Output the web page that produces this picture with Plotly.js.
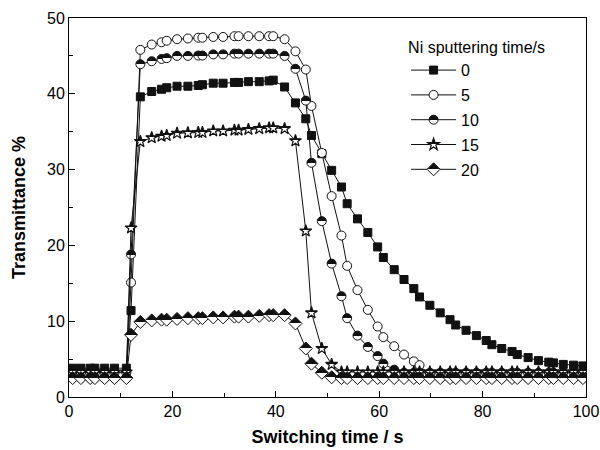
<!DOCTYPE html>
<html>
<head>
<meta charset="utf-8">
<script src="https://cdn.plot.ly/plotly-3.0.1.min.js"></script>
<style>html,body{margin:0;padding:0;background:#fff;}#chart{width:600px;height:450px;}</style>
</head>
<body>
<div id="chart"></div>
<script>
// Switching time (s), shared sampling for all series
const time = [
  0.7, 2.3, 4.1, 5.0, 6.9, 8.8, 11.1, 12.0,
  13.8, 16.0, 17.9, 18.9,
  20.9, 23.0, 25.0, 25.8,
  27.9, 29.8, 32.0, 32.8,
  34.7, 36.8, 38.7, 39.5,
  41.7, 43.8, 45.8, 46.9,
  48.9, 50.8, 52.7, 53.8,
  55.8, 57.8, 59.7, 60.8,
  62.9, 64.8, 66.7, 67.8,
  69.8, 71.8, 73.7, 74.8,
  76.8, 78.8, 80.7, 81.8,
  83.7, 85.7, 86.7, 88.8,
  90.8, 92.8, 93.7, 95.6,
  97.6, 99.4
];
const seriesNames = ["0", "5", "10", "15", "20"];
const ni0 = [
  3.8, 3.8, 3.8, 3.8, 3.8, 3.8, 3.8, 11.4,
  39.6, 40.3, 40.6, 40.8,
  41.0, 41.0, 41.1, 41.2,
  41.4, 41.4, 41.5, 41.5,
  41.6, 41.6, 41.7, 41.8,
  40.9, 38.8, 36.7, 34.5,
  32.1, 29.9, 27.7, 25.5,
  23.5, 21.7, 19.8, 18.4,
  16.8, 15.5, 14.3, 13.2,
  12.1, 11.1, 10.2, 9.5,
  8.8, 8.1, 7.45, 6.9,
  6.4, 6.0, 5.6, 5.2,
  4.8, 4.6, 4.5, 4.3,
  4.2, 4.1
];
const ni5 = [
  2.5, 2.5, 2.5, 2.5, 2.5, 2.5, 2.5, 15.1,
  45.8, 46.5, 46.8, 47.0,
  47.2, 47.3, 47.4, 47.4,
  47.5, 47.5, 47.6, 47.6,
  47.6, 47.6, 47.6, 47.6,
  47.2, 45.6, 43.2, 38.4,
  32.2, 26.5, 21.3, 17.3,
  14.1, 11.5, 9.3, 7.9,
  6.7, 5.6, 4.7, 4.2,
  2.8, 2.5, 2.5, 2.5,
  2.5, 2.5, 2.5, 2.5,
  2.5, 2.5, 2.5, 2.5,
  2.5, 2.5, 2.5, 2.5,
  2.5, 2.5
];
const ni10 = [
  3.2, 3.2, 3.2, 3.2, 3.2, 3.2, 3.2, 18.8,
  43.9, 44.3, 44.6, 44.7,
  45.0, 45.0, 45.05, 45.05,
  45.2, 45.2, 45.3, 45.3,
  45.3, 45.3, 45.3, 45.3,
  45.0, 43.3, 39.1, 30.9,
  23.2, 17.6, 13.3, 10.4,
  8.1, 6.6, 5.4, 4.4,
  3.6, 3.2, 3.2, 3.2,
  3.2, 3.2, 3.2, 3.2,
  3.2, 3.2, 3.2, 3.2,
  3.2, 3.2, 3.2, 3.2,
  3.2, 3.2, 3.2, 3.2,
  3.2, 3.2
];
const ni15 = [
  3.3, 3.3, 3.3, 3.3, 3.3, 3.3, 3.3, 22.3,
  33.7, 34.2, 34.4, 34.5,
  34.8, 34.85, 34.9, 34.9,
  35.1, 35.1, 35.2, 35.2,
  35.3, 35.4, 35.5, 35.5,
  35.4, 33.8, 21.9, 11.1,
  6.4, 4.3, 3.3, 3.3,
  3.3, 3.3, 3.3, 3.3,
  3.3, 3.3, 3.3, 3.3,
  3.3, 3.3, 3.3, 3.3,
  3.3, 3.3, 3.3, 3.3,
  3.3, 3.3, 3.3, 3.3,
  3.3, 3.3, 3.3, 3.3,
  3.3, 3.3
];
const ni20 = [
  2.5, 2.5, 2.5, 2.5, 2.5, 2.5, 2.5, 8.2,
  9.9, 10.1, 10.2, 10.2,
  10.3, 10.4, 10.4, 10.4,
  10.5, 10.5, 10.6, 10.6,
  10.6, 10.7, 10.8, 10.8,
  10.8, 9.7, 6.4, 4.4,
  3.2, 2.6, 2.5, 2.5,
  2.5, 2.5, 2.5, 2.5,
  2.5, 2.5, 2.5, 2.5,
  2.5, 2.5, 2.5, 2.5,
  2.5, 2.5, 2.5, 2.5,
  2.5, 2.5, 2.5, 2.5,
  2.5, 2.5, 2.5, 2.5,
  2.5, 2.5
];
const values = [ni0, ni5, ni10, ni15, ni20];
const xTickVals = [0, 20, 40, 60, 80, 100];
const yTickVals = [0, 10, 20, 30, 40, 50];

const markerStyles = [
  {symbol: "square", size: 8, color: "#111", line: {color: "#111", width: 1}},
  {symbol: "circle", size: 9, color: "#fff", line: {color: "#111", width: 1}},
  {symbol: "circle", size: 9, color: "#fff", line: {color: "#111", width: 1}, gradient: {type: "vertical", color: "#111"}},
  {symbol: "star", size: 9, color: "#fff", line: {color: "#111", width: 1.2}, gradient: {type: "vertical", color: "#111"}},
  {symbol: "diamond", size: 10, color: "#fff", line: {color: "#111", width: 1}, gradient: {type: "vertical", color: "#111"}}
];

const traces = seriesNames.map((name, i) => ({
  x: time, y: values[i], name: name, type: "scatter", mode: "lines+markers",
  line: {color: "#111", width: 1}, marker: markerStyles[i],
  legendgroup: "g" + i
}));

const font = "Liberation Sans, Arial, sans-serif";
const layout = {
  width: 600, height: 450,
  margin: {l: 69, r: 14, t: 18, b: 53},
  paper_bgcolor: "#fff", plot_bgcolor: "#fff",
  font: {family: font, size: 16, color: "#000"},
  showlegend: true,
  legend: {
    x: 0.652, y: 0.962, xanchor: "left", yanchor: "top",
    bgcolor: "rgba(0,0,0,0)", borderwidth: 0,
    font: {family: font, size: 16, color: "#000"},
    title: {text: "Ni sputtering time/s", side: "top", font: {family: font, size: 16}},
    traceorder: "grouped", tracegroupgap: 1, itemwidth: 45
  },
  xaxis: {
    range: [0, 100], tickvals: xTickVals, ticktext: xTickVals.map(String),
    showgrid: false, zeroline: false, showline: true, linecolor: "#000", linewidth: 1, mirror: true,
    ticks: "inside", ticklen: 6, tickcolor: "#000",
    minor: {ticks: "inside", dtick: 10, ticklen: 4, tickcolor: "#000", showgrid: false},
    tickfont: {family: font, size: 16},
    title: {text: "<b>Switching time / s</b>", font: {family: font, size: 18}, standoff: 11}
  },
  yaxis: {
    range: [0, 50], tickvals: yTickVals, ticktext: yTickVals.map(String),
    showgrid: false, zeroline: false, showline: true, linecolor: "#000", linewidth: 1, mirror: true,
    ticks: "inside", ticklen: 6, tickcolor: "#000",
    minor: {ticks: "inside", dtick: 5, ticklen: 4, tickcolor: "#000", showgrid: false},
    tickfont: {family: font, size: 16},
    title: {text: "<b>Transmittance %</b>", font: {family: font, size: 18}, standoff: 16}
  }
};

Plotly.newPlot("chart", traces, layout, {staticPlot: true, displayModeBar: false}).then(gd => {
  // half-filled markers: dark upper half, white lower half, hard edge
  const NS = "http://www.w3.org/2000/svg";
  gd.querySelectorAll("linearGradient").forEach(g => {
    g.setAttribute("x1", "0"); g.setAttribute("y1", "0");
    g.setAttribute("x2", "0"); g.setAttribute("y2", "1");
    g.removeAttribute("gradientTransform");
    while (g.firstChild) g.removeChild(g.firstChild);
    [["0", "#111"], ["0.5", "#111"], ["0.5", "#fff"], ["1", "#fff"]].forEach(([o, c]) => {
      const s = document.createElementNS(NS, "stop");
      s.setAttribute("offset", o);
      s.setAttribute("stop-color", c);
      s.setAttribute("stop-opacity", "1");
      g.appendChild(s);
    });
  });
});
</script>
</body>
</html>
